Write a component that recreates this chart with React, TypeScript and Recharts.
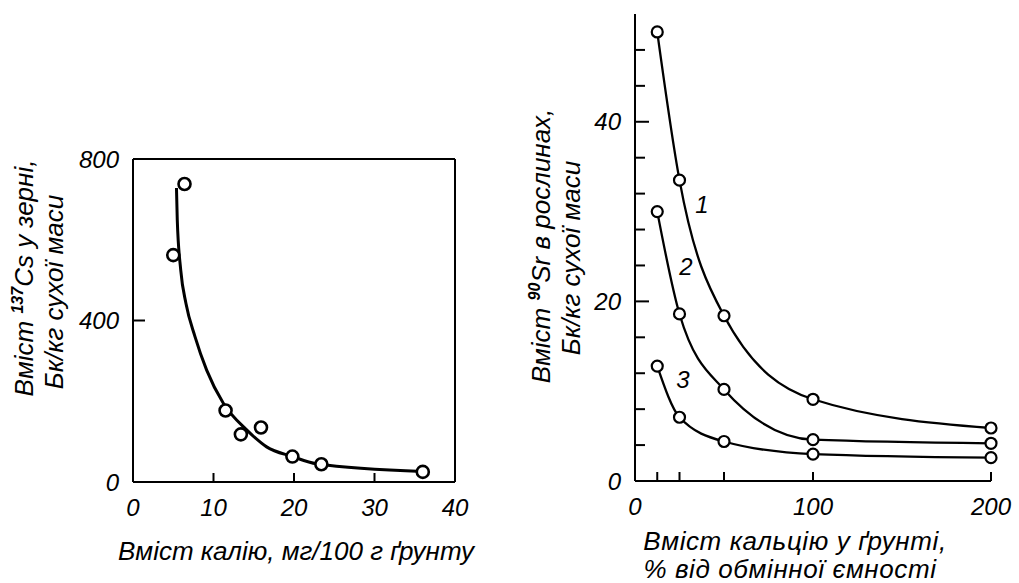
import React from "react";
import { ComposedChart, LineChart, Line, Scatter, XAxis, YAxis, ReferenceLine } from "recharts";

// left panel: 137Cs in grain vs soil potassium
const potassiumPts = [5.0, 6.4, 11.5, 13.4, 15.9, 19.8, 23.4, 36];
const csPts = [562, 738, 177, 118, 135, 63, 44, 25];
// fitted curve as drawn in the figure
const potassiumCurve = [5.4, 5.5, 5.93, 6.58, 7.7, 9.15, 11.22, 14.12, 16.6, 19.8, 22.8, 36];
const csCurve = [728, 649, 525, 442, 360, 277, 195, 129, 87, 63, 45, 26];
const leftXTicks = [0, 10, 20, 30, 40];
const leftYTicks = [0, 400, 800];

// right panel: 90Sr in plants vs soil calcium
const calcium = [12.5, 25, 50, 100, 200];
const sr1 = [50, 33.5, 18.4, 9.1, 5.9];
const sr2 = [30, 18.6, 10.2, 4.6, 4.2];
const sr3 = [12.8, 7.1, 4.4, 3.0, 2.6];
const rightXTicks = [0, 12.5, 25, 50, 100, 200];
const rightXLabels = [0, 100, 200];
const rightYTicks = [0, 4, 8, 12, 16, 20, 24, 28, 32, 36, 40, 44, 48];
const rightYLabels = [0, 20, 40];

const FONT = '"Liberation Sans", Arial, sans-serif';
const M = 14;

const ptsData = potassiumPts.map((k, i) => ({ k, cs: csPts[i] }));
const curveData = potassiumCurve.map((k, i) => ({ k, cs: csCurve[i] }));
const srData = calcium.map((ca, i) => ({ ca, s1: sr1[i], s2: sr2[i], s3: sr3[i] }));

function makeBottomTick(labels: number[] | null, len: number, noLine: number[]) {
  return (props: any) => {
    const { x, y, payload } = props;
    const v = payload.value;
    const axisY = y - M;
    return (
      <g>
        {!noLine.includes(v) && <line x1={x} x2={x} y1={axisY} y2={axisY - len} stroke="#000" strokeWidth={2} />}
        {(!labels || labels.includes(v)) && (
          <text x={x} y={y} dy="0.85em" textAnchor="middle" fontSize={24} fontStyle="italic" fontFamily={FONT} fill="#000">
            {v}
          </text>
        )}
      </g>
    );
  };
}

function makeLeftTick(labels: number[] | null, majorLen: number, minorLen: number, noLine: number[]) {
  return (props: any) => {
    const { x, y, payload } = props;
    const v = payload.value;
    const axisX = x + M;
    const major = !labels || labels.includes(v);
    return (
      <g>
        {!noLine.includes(v) && <line x1={axisX} x2={axisX + (major ? majorLen : minorLen)} y1={y} y2={y} stroke="#000" strokeWidth={2} />}
        {major && (
          <text x={x} y={y} dy="0.36em" textAnchor="end" fontSize={24} fontStyle="italic" fontFamily={FONT} fill="#000">
            {v}
          </text>
        )}
      </g>
    );
  };
}

const circle = (r: number, sw: number) => (p: any) => <circle cx={p.cx} cy={p.cy} r={r} fill="#fff" stroke="#000" strokeWidth={sw} />;

const titleStyle = { fontFamily: FONT, fontStyle: "italic" as const, fontSize: 26, fill: "#000" };
const srDot = { r: 5.5, fill: "#fff", stroke: "#000", strokeWidth: 2.2 };

export default function App() {
  return (
    <div style={{ position: "absolute", left: 0, top: 0, width: 1019, height: 583, background: "#fff" }}>
      <div style={{ position: "absolute", left: 0, top: 0 }}>
        <ComposedChart width={480} height={583} margin={{ top: 159, right: 25, left: 73, bottom: 61 }}>
          <XAxis dataKey="k" type="number" domain={[0, 40]} ticks={leftXTicks} height={40} tickSize={0} tickMargin={M}
            axisLine={{ stroke: "#000", strokeWidth: 2 }} tickLine={false} tick={makeBottomTick(null, 9, [0, 40])} allowDataOverflow />
          <YAxis type="number" domain={[0, 800]} ticks={leftYTicks} width={60} tickSize={0} tickMargin={M}
            axisLine={{ stroke: "#000", strokeWidth: 2 }} tickLine={false} tick={makeLeftTick(null, 12, 12, [0, 800])} allowDataOverflow />
          <ReferenceLine y={800} stroke="#000" strokeWidth={2} />
          <ReferenceLine x={40} stroke="#000" strokeWidth={2} />
          <Line data={curveData} dataKey="cs" type="monotone" stroke="#000" strokeWidth={3} dot={false} isAnimationActive={false} />
          <Scatter data={ptsData} dataKey="cs" shape={circle(6, 2.6)} isAnimationActive={false} />
        </ComposedChart>
      </div>
      <div style={{ position: "absolute", left: 480, top: 0 }}>
        <LineChart width={539} height={583} data={srData} margin={{ top: 14, right: 28, left: 95, bottom: 62 }}>
          <XAxis dataKey="ca" type="number" domain={[0, 200]} ticks={rightXTicks} height={40} tickSize={0} tickMargin={M}
            axisLine={{ stroke: "#000", strokeWidth: 2 }} tickLine={false} tick={makeBottomTick(rightXLabels, 9, [0])} interval={0} />
          <YAxis type="number" domain={[0, 52]} ticks={rightYTicks} width={60} tickSize={0} tickMargin={M}
            axisLine={{ stroke: "#000", strokeWidth: 2 }} tickLine={false} tick={makeLeftTick(rightYLabels, 14, 10, [0])} interval={0} />
          <Line dataKey="s1" type="monotone" stroke="#000" strokeWidth={2.3} dot={srDot} isAnimationActive={false} />
          <Line dataKey="s2" type="monotone" stroke="#000" strokeWidth={2.3} dot={srDot} isAnimationActive={false} />
          <Line dataKey="s3" type="monotone" stroke="#000" strokeWidth={2.3} dot={srDot} isAnimationActive={false} />
        </LineChart>
      </div>
      <svg width={1019} height={583} style={{ position: "absolute", left: 0, top: 0, pointerEvents: "none" }}>
        <text transform="translate(33,278) rotate(-90)" textAnchor="middle" {...titleStyle}>
          Вміст <tspan fontWeight="bold" fontSize={16} dy={-10}>137</tspan><tspan dy={10}>Cs у зерні,</tspan>
        </text>
        <text transform="translate(63,292) rotate(-90)" textAnchor="middle" {...titleStyle}>Бк/кг сухої маси</text>
        <text x={296} y={560} textAnchor="middle" {...titleStyle}>Вміст калію, мг/100 г ґрунту</text>
        <text transform="translate(550,246) rotate(-90)" textAnchor="middle" {...titleStyle}>
          Вміст <tspan fontWeight="bold" fontSize={16} dy={-10}>90</tspan><tspan dy={10}>Sr в рослинах,</tspan>
        </text>
        <text transform="translate(580,258) rotate(-90)" textAnchor="middle" {...titleStyle}>Бк/кг сухої маси</text>
        <text x={795} y={550} textAnchor="middle" {...titleStyle} letterSpacing={0.6}>Вміст кальцію у ґрунті,</text>
        <text x={790} y={578} textAnchor="middle" {...titleStyle} letterSpacing={0.6}>% від обмінної ємності</text>
        <text x={702} y={213} textAnchor="middle" {...titleStyle} fontSize={24}>1</text>
        <text x={686} y={275} textAnchor="middle" {...titleStyle} fontSize={24}>2</text>
        <text x={683} y={388} textAnchor="middle" {...titleStyle} fontSize={24}>3</text>
      </svg>
    </div>
  );
}
